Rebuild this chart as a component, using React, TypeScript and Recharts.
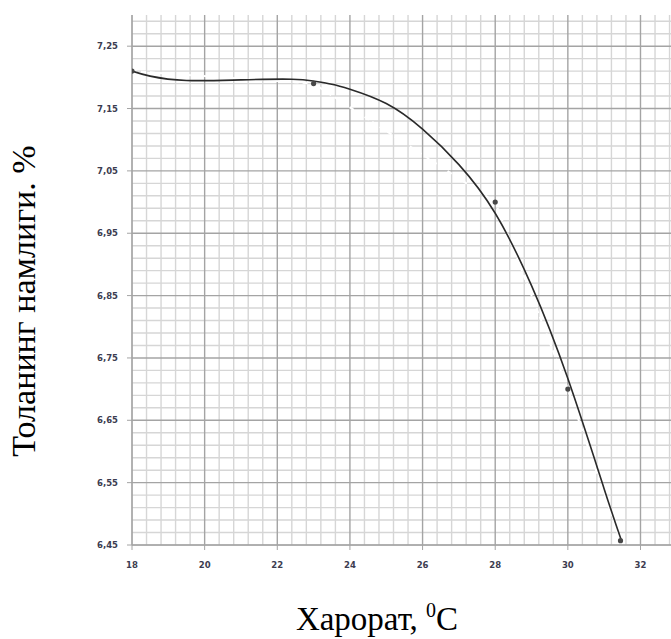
import { LineChart, Line, XAxis, YAxis, ReferenceLine, Label } from 'recharts';

// measured points (temperature, °C -> moisture, %)
const tempPoints = [18, 23, 28, 30, 31.45];
const moisturePoints = [7.21, 7.19, 7.0, 6.7, 6.457];

// trend curve
const curveTemps = [18, 18.5, 19.5, 21, 22.4, 23, 23.5, 24, 25, 26, 27, 28, 29, 30, 31, 31.47];
const curveMoisture = [7.21, 7.202, 7.195, 7.196, 7.197, 7.194, 7.189, 7.181, 7.158, 7.117, 7.06, 6.982, 6.866, 6.717, 6.54, 6.458];

const xTicks = [18, 20, 22, 24, 26, 28, 30, 32];
const yTicks = [6.45, 6.55, 6.65, 6.75, 6.85, 6.95, 7.05, 7.15, 7.25];

const points = tempPoints.map((t, i) => ({ t, m: moisturePoints[i] }));
const curve = curveTemps.map((t, i) => ({ t, m: curveMoisture[i] }));

// millimetre-paper grid: 0.4 °C and 0.02 % steps
const gridX: { v: number; major: boolean }[] = [];
for (let i = 0; i <= 37; i++) gridX.push({ v: +(18 + 0.4 * i).toFixed(2), major: i % 5 === 0 });
const gridY: { v: number; major: boolean }[] = [];
for (let i = 0; i <= 42; i++) gridY.push({ v: +(6.45 + 0.02 * i).toFixed(2), major: i % 5 === 0 });

const MINOR = '#d6d6d6';
const MAJOR = '#a4a4a4';
const tickStyle = { fill: '#3c3c50', fontSize: 8.5, fontFamily: 'DejaVu Sans', fontWeight: 600 };

function XTitle() {
  return (
    <text x={377} y={630} textAnchor="middle" fontFamily="Liberation Serif" fontSize={33} fill="#000">
      Харорат, <tspan fontSize={20} dy={-13}>0</tspan>
      <tspan dy={13}>C</tspan>
    </text>
  );
}

function YTitle() {
  return (
    <text
      x={35}
      y={301}
      transform="rotate(-90, 35, 301)"
      textAnchor="middle"
      fontFamily="Liberation Serif"
      fontSize={34}
      fill="#000"
    >
      Толанинг намлиги. %
    </text>
  );
}

export default function App() {
  return (
    <div style={{ position: 'absolute', left: 0, top: 0, background: '#fff' }}>
      <LineChart width={671} height={639} margin={{ top: 15, right: 0, bottom: 64, left: 72 }}>
        <XAxis
          type="number"
          dataKey="t"
          domain={[18, 32.84]}
          ticks={xTicks}
          allowDataOverflow
          tick={tickStyle}
          tickSize={5}
          tickMargin={12}
          stroke={MAJOR}
          height={30}
        >
          <Label content={XTitle} />
        </XAxis>
        <YAxis
          type="number"
          dataKey="m"
          domain={[6.45, 7.3]}
          ticks={yTicks}
          allowDataOverflow
          tick={tickStyle}
          tickSize={5}
          tickMargin={9}
          stroke={MAJOR}
          width={60}
          tickFormatter={(v: number) => v.toFixed(2).replace('.', ',')}
        >
          <Label content={YTitle} />
        </YAxis>

        {gridX.filter((g) => !g.major).map((g) => (
          <ReferenceLine key={'xm' + g.v} x={g.v} stroke={MINOR} strokeWidth={1.4} />
        ))}
        {gridY.filter((g) => !g.major).map((g) => (
          <ReferenceLine key={'ym' + g.v} y={g.v} stroke={MINOR} strokeWidth={1.4} />
        ))}
        {gridX.filter((g) => g.major).map((g) => (
          <ReferenceLine key={'xM' + g.v} x={g.v} stroke={MAJOR} strokeWidth={1.4} />
        ))}
        {gridY.filter((g) => g.major).map((g) => (
          <ReferenceLine key={'yM' + g.v} y={g.v} stroke={MAJOR} strokeWidth={1.4} />
        ))}

        <Line
          data={points}
          dataKey="m"
          type="linear"
          stroke="#fff"
          strokeWidth={2}
          strokeDasharray="5 4"
          dot={false}
          isAnimationActive={false}
        />
        <Line
          data={curve}
          dataKey="m"
          type="natural"
          stroke="#2a2a2a"
          strokeWidth={1.6}
          dot={false}
          isAnimationActive={false}
        />
        <Line
          data={points}
          dataKey="m"
          stroke="none"
          dot={{ r: 2.6, fill: '#484848', stroke: 'none' }}
          isAnimationActive={false}
        />
      </LineChart>
    </div>
  );
}
